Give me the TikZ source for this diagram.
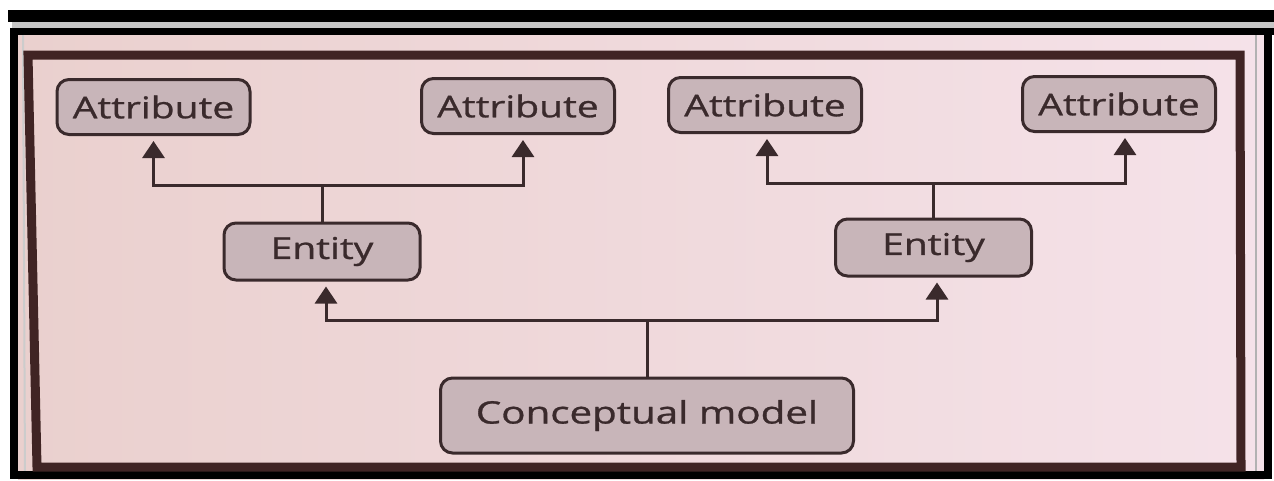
\documentclass[tikz,border=0pt]{standalone}
\usepackage{graphicx}
\usepackage{fontspec}
\setmainfont{Open Sans}
\newfontfamily\labelfont{Open Sans}[FakeBold=0.8]
\usetikzlibrary{arrows.meta}

\definecolor{paper}{RGB}{245,226,233}
\definecolor{paperwarm}{RGB}{234,208,206}
\definecolor{ink}{RGB}{58,42,44}
\definecolor{boxfill}{RGB}{200,181,185}
\definecolor{framebrown}{RGB}{64,36,36}

% labels are set slightly wide
\newcommand{\widetext}[1]{\scalebox{1.3}[1]{#1}}

\begin{document}
\begin{tikzpicture}[x=1pt,y=-1pt,
  box/.style={draw=ink, line width=3, fill=boxfill, rounded corners=12,
    text=ink, inner sep=0, font=\labelfont\fontsize{30}{36}\selectfont},
  attr/.style={box, minimum width=193, minimum height=55},
  ent/.style={box, minimum width=196, minimum height=57},
  link/.style={draw=ink, line width=3},
  arr/.style={link, -{Triangle[width=22pt,length=17pt]}, shorten >=5},
]
% page, outer rules and background
\fill[white] (0,0) rectangle (1274,479);
\shade[left color=paperwarm, right color=paper] (18,35) rectangle (1264,479);
\fill[black] (8,10) rectangle (1274,22);
\fill[gray!45] (12,22) rectangle (1274,28);
\fill[black] (12,28) rectangle (1274,35);
\fill[black] (10,28) rectangle (18,479);
\fill[black] (1264,28) rectangle (1272,479);
\draw[gray!60, line width=2] (1256,35) -- (1256,479);
\draw[gray!40, line width=2] (23,35) -- (25,479);
\fill[black] (10,471) rectangle (1272,479);

% inner frame
\draw[framebrown, line width=9, line join=miter] (28,55) -- (1240,55) -- (1241,467) -- (37,467) -- cycle;

% nodes
\node[attr] (a1) at (153.5,107) {\widetext{Attribute}};
\node[attr] (a2) at (518,106) {\widetext{Attribute}};
\node[attr] (a3) at (765,105) {\widetext{Attribute}};
\node[attr] (a4) at (1119,104) {\widetext{Attribute}};
\node[ent] (e1) at (322,251.5) {\widetext{Entity}};
\node[ent] (e2) at (933.5,247.5) {\widetext{Entity}};
\node[box, minimum width=413, minimum height=75, font=\labelfont\fontsize{31}{37}\selectfont]
  (cm) at (647,415.5) {\widetext{Conceptual model}};

% bus levels
\coordinate (bus1) at (0,185);
\coordinate (bus2) at (0,183);
\coordinate (bus3) at (0,320);

% entity 1 to its attributes
\draw[link] (e1.north) -- (e1.north |- bus1);
\draw[arr] (e1.north |- bus1) -| (a1.south);
\draw[arr] (e1.north |- bus1) -| ([xshift=5]a2.south);

% entity 2 to its attributes
\draw[link] (e2.north) -- (e2.north |- bus2);
\draw[arr] (e2.north |- bus2) -| ([xshift=2]a3.south);
\draw[arr] (e2.north |- bus2) -| ([xshift=6]a4.south);

% conceptual model to entities
\draw[link] (cm.north) -- (cm.north |- bus3);
\draw[arr] (cm.north |- bus3) -| ([xshift=4]e1.south);
\draw[arr] (cm.north |- bus3) -| ([xshift=3.5]e2.south);
\end{tikzpicture}
\end{document}
